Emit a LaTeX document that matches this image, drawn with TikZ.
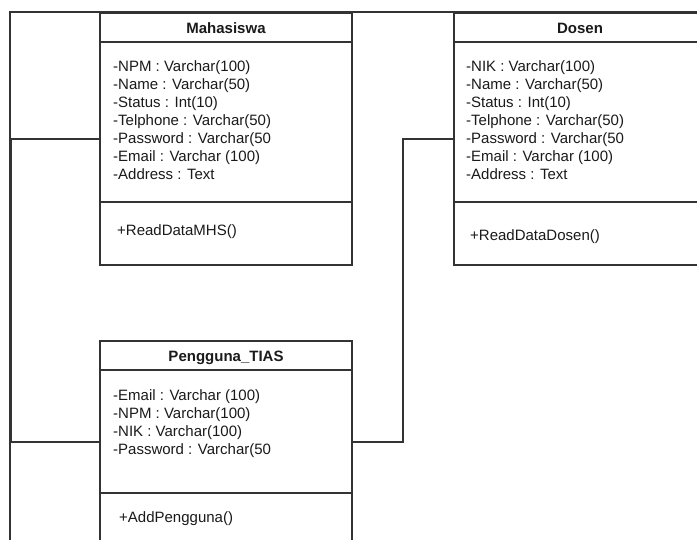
\documentclass[tikz,border=0pt]{standalone}
\usepackage{fontspec}
\setmainfont{Liberation Sans}
\definecolor{linec}{HTML}{333333}
\definecolor{txtc}{HTML}{1A1A1A}
\begin{document}
\begin{tikzpicture}[x=1pt,y=-1pt,
  line/.style={draw=linec, line width=1.2pt},
  cls/.style={draw=linec, line width=1.2pt, fill=white, anchor=north west,
    minimum width=252pt, inner sep=0pt, outer sep=0pt},
  ttl/.style={font=\fontsize{15}{18}\selectfont\bfseries, text=txtc, anchor=base, inner sep=0pt},
  attr/.style={font=\fontsize{15}{18}\selectfont, text=txtc, anchor=north west, align=left, inner sep=0pt},
]
\useasboundingbox (0,0) rectangle (697,539);
\clip (0,0) rectangle (697,539);

% outer frame
\draw[line, line width=1.4pt] (10,545) -- (10,12) -- (705,12);

% Mahasiswa
\node[cls, minimum height=252pt] (m) at (100,13) {};
\draw[line] (100,42) -- (352,42);
\draw[line] (100,202) -- (352,202);
\node[ttl] (mt) at (226,33) {Mahasiswa};
\node[attr] (ma) at (113,60.5) {-NPM : Varchar(100)\\-Name : Varchar(50)\\-Status : Int(10)\\-Telphone : Varchar(50)\\-Password : Varchar(50\\-Email : Varchar (100)\\-Address : Text};
\node[attr, anchor=base west] (mm) at (117,235) {+ReadDataMHS()};

% Dosen
\node[cls, minimum height=252pt] (d) at (454,13) {};
\draw[line] (454,42) -- (706,42);
\draw[line] (454,202) -- (706,202);
\node[ttl] (dt) at (580,33) {Dosen};
\node[attr] (da) at (466,60.5) {-NIK : Varchar(100)\\-Name : Varchar(50)\\-Status : Int(10)\\-Telphone : Varchar(50)\\-Password : Varchar(50\\-Email : Varchar (100)\\-Address : Text};
\node[attr, anchor=base west] (dm) at (470,240) {+ReadDataDosen()};

% Pengguna_TIAS
\node[cls, minimum height=202pt] (p) at (100,341) {};
\draw[line] (100,370) -- (352,370);
\draw[line] (100,493) -- (352,493);
\node[ttl] (pt) at (226,361) {Pengguna\_TIAS};
\node[attr] (pa) at (113,389.5) {-Email : Varchar (100)\\-NPM : Varchar(100)\\-NIK : Varchar(100)\\-Password : Varchar(50};
\node[attr, anchor=base west] (pm) at (119,522) {+AddPengguna()};

% connectors
\coordinate (lbend) at (11,139);
\coordinate (rbend) at (403,139);
\draw[line] (m.west) -- (lbend) |- (p.west);
\draw[line] (d.west) -- (rbend) |- (p.east);
\end{tikzpicture}
\end{document}
